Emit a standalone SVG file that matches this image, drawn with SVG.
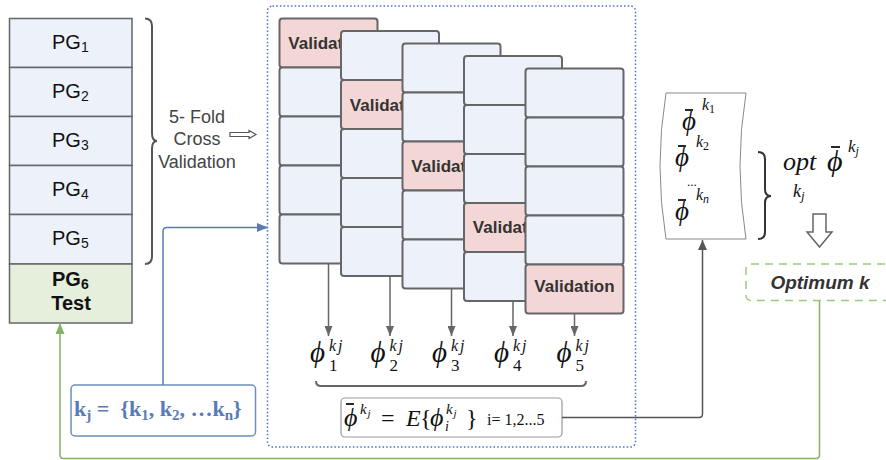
<svg xmlns="http://www.w3.org/2000/svg" width="886" height="460" viewBox="0 0 886 460">
  <style>
    .pg { fill: #ecf1fa; stroke: #666; stroke-width: 1.5; }
    .pgt { fill: #e5efdc; stroke: #666; stroke-width: 1.5; }
    .sans { font-family: "Liberation Sans", Arial, sans-serif; }
    .serif { font-family: "Liberation Serif", "Times New Roman", serif; }
    .lbl { font-size: 20px; fill: #111; }
    .cell { fill: #ecf1fa; stroke: #666; stroke-width: 2; }
    .val { fill: #f3d7d6; stroke: #666; stroke-width: 2; }
    .valt { font-family: "Liberation Sans", Arial, sans-serif; font-size: 17px; font-weight: bold; fill: #333; text-anchor: middle; }
    .gray { fill: none; stroke: #666; stroke-width: 1.5; }
    .math { font-family: "Liberation Serif", "DejaVu Serif", "Times New Roman", serif; fill: #111; }
    .bar { stroke: #111; stroke-width: 1.8; }
  </style>
  <defs>
    <marker id="arrGray" markerWidth="10" markerHeight="8" refX="10" refY="4" orient="auto" markerUnits="userSpaceOnUse">
      <path d="M0,0 L10,4 L0,8 Z" fill="#666"/>
    </marker>
    <marker id="arrBlue" markerWidth="11" markerHeight="9" refX="11" refY="4.5" orient="auto" markerUnits="userSpaceOnUse">
      <path d="M0,0 L11,4.5 L0,9 Z" fill="#5a7ab8"/>
    </marker>
    <marker id="arrGreen" markerWidth="11" markerHeight="9" refX="11" refY="4.5" orient="auto" markerUnits="userSpaceOnUse">
      <path d="M0,0 L11,4.5 L0,9 Z" fill="#82b366"/>
    </marker>
    <marker id="arrDark" markerWidth="10" markerHeight="9" refX="10" refY="4.5" orient="auto" markerUnits="userSpaceOnUse">
      <path d="M0,0 L10,4.5 L0,9 Z" fill="#555"/>
    </marker>
  </defs>

  <!-- partition groups PG1..PG6 -->
  <g id="pg-stack">
    <rect class="pg" x="9.5" y="18.5" width="122.5" height="49"/>
    <rect class="pg" x="9.5" y="67.5" width="122.5" height="49"/>
    <rect class="pg" x="9.5" y="116.5" width="122.5" height="49"/>
    <rect class="pg" x="9.5" y="165.5" width="122.5" height="49"/>
    <rect class="pg" x="9.5" y="214.5" width="122.5" height="49.5"/>
    <rect class="pgt" x="9.5" y="264" width="122.5" height="59"/>
    <text class="sans lbl" x="52" y="48.5">PG<tspan font-size="14" dy="3">1</tspan></text>
    <text class="sans lbl" x="52" y="97.5">PG<tspan font-size="14" dy="3">2</tspan></text>
    <text class="sans lbl" x="52" y="146.5">PG<tspan font-size="14" dy="3">3</tspan></text>
    <text class="sans lbl" x="52" y="195.5">PG<tspan font-size="14" dy="3">4</tspan></text>
    <text class="sans lbl" x="52" y="244.5">PG<tspan font-size="14" dy="3">5</tspan></text>
    <text class="sans lbl" x="52" y="285.5" font-weight="bold">PG<tspan font-size="14" dy="3">6</tspan></text>
    <text class="sans lbl" x="71" y="310" font-weight="bold" text-anchor="middle">Test</text>
  </g>

  <!-- brace and caption -->
  <g id="fold-label">
    <path d="M145,18.5 Q152,18.5 152,26 V133 Q152,141 157,141 Q152,141 152,149 V256.5 Q152,264 145,264" fill="none" stroke="#555" stroke-width="2"/>
    <g class="sans" font-size="18" fill="#444" text-anchor="middle">
      <text x="197" y="123">5- Fold</text>
      <text x="197" y="145">Cross</text>
      <text x="197" y="168">Validation</text>
    </g>
    <path d="M230,132.5 H249 V130.5 L256,134.5 L249,138.5 V136.5 H230 Z" fill="#fff" stroke="#555" stroke-width="1.2"/>
  </g>

  <!-- dotted container -->
  <rect id="folds-frame" x="267.5" y="6" width="368" height="441" rx="5" fill="none" stroke="#4d70c4" stroke-width="1.5" stroke-dasharray="1.5 2.2"/>

  <!-- fold 1 -->
  <g id="fold1">
    <rect class="val" x="279.5" y="18.5" width="98" height="49" rx="3"/>
    <rect class="cell" x="279.5" y="67.5" width="98" height="49" rx="3"/>
    <rect class="cell" x="279.5" y="116.5" width="98" height="49" rx="3"/>
    <rect class="cell" x="279.5" y="165.5" width="98" height="49" rx="3"/>
    <rect class="cell" x="279.5" y="214.5" width="98" height="49" rx="3"/>
    <text class="valt" x="328.5" y="49">Validation</text>
  </g>
  <!-- fold 2 -->
  <g id="fold2">
    <rect class="cell" x="341" y="31" width="98" height="49" rx="3"/>
    <rect class="val" x="341" y="80" width="98" height="49" rx="3"/>
    <rect class="cell" x="341" y="129" width="98" height="49" rx="3"/>
    <rect class="cell" x="341" y="178" width="98" height="49" rx="3"/>
    <rect class="cell" x="341" y="227" width="98" height="49" rx="3"/>
    <text class="valt" x="390" y="110.5">Validation</text>
  </g>
  <!-- fold 3 -->
  <g id="fold3">
    <rect class="cell" x="402.5" y="43.5" width="98" height="49" rx="3"/>
    <rect class="cell" x="402.5" y="92.5" width="98" height="49" rx="3"/>
    <rect class="val" x="402.5" y="141.5" width="98" height="49" rx="3"/>
    <rect class="cell" x="402.5" y="190.5" width="98" height="49" rx="3"/>
    <rect class="cell" x="402.5" y="239.5" width="98" height="49" rx="3"/>
    <text class="valt" x="451.5" y="171.5">Validation</text>
  </g>
  <!-- fold 4 -->
  <g id="fold4">
    <rect class="cell" x="464" y="56" width="98" height="49" rx="3"/>
    <rect class="cell" x="464" y="105" width="98" height="49" rx="3"/>
    <rect class="cell" x="464" y="154" width="98" height="49" rx="3"/>
    <rect class="val" x="464" y="203" width="98" height="49" rx="3"/>
    <rect class="cell" x="464" y="252" width="98" height="49" rx="3"/>
    <text class="valt" x="513" y="233">Validation</text>
  </g>
  <!-- fold 5 -->
  <g id="fold5">
    <rect class="cell" x="525.5" y="68.5" width="98" height="49" rx="3"/>
    <rect class="cell" x="525.5" y="117.5" width="98" height="49" rx="3"/>
    <rect class="cell" x="525.5" y="166.5" width="98" height="49" rx="3"/>
    <rect class="cell" x="525.5" y="215.5" width="98" height="49" rx="3"/>
    <rect class="val" x="525.5" y="264.5" width="98" height="49" rx="3"/>
    <text class="valt" x="574.5" y="292">Validation</text>
  </g>

  <!-- per-fold scores -->
  <g id="fold-scores" class="math">
    <text x="310" y="362" font-size="29" font-style="italic">ϕ<tspan x="329" y="351" font-size="16" letter-spacing="2">kj</tspan><tspan x="329" y="371" font-size="17" font-style="normal">1</tspan></text>
    <text x="370.5" y="362" font-size="29" font-style="italic">ϕ<tspan x="389.5" y="351" font-size="16" letter-spacing="2">kj</tspan><tspan x="389.5" y="371" font-size="17" font-style="normal">2</tspan></text>
    <text x="432" y="362" font-size="29" font-style="italic">ϕ<tspan x="451" y="351" font-size="16" letter-spacing="2">kj</tspan><tspan x="451" y="371" font-size="17" font-style="normal">3</tspan></text>
    <text x="494" y="362" font-size="29" font-style="italic">ϕ<tspan x="513" y="351" font-size="16" letter-spacing="2">kj</tspan><tspan x="513" y="371" font-size="17" font-style="normal">4</tspan></text>
    <text x="556.5" y="362" font-size="29" font-style="italic">ϕ<tspan x="575.5" y="351" font-size="16" letter-spacing="2">kj</tspan><tspan x="575.5" y="371" font-size="17" font-style="normal">5</tspan></text>
  </g>

  <!-- under-brace -->
  <path id="score-brace" d="M316,381 Q316,386 321,386 H581 Q586,386 586,381" fill="none" stroke="#666" stroke-width="2"/>

  <!-- average formula -->
  <g id="mean-box">
    <rect x="341" y="398" width="221" height="39" rx="4" fill="#fff" stroke="#999" stroke-width="1.2"/>
    <line class="bar" x1="346" y1="404" x2="354" y2="404"/>
    <text class="math" y="426" font-size="26">
      <tspan x="344" font-style="italic">ϕ</tspan>
      <tspan x="360" y="414" font-size="15" font-style="italic">k</tspan><tspan x="367.5" y="417" font-size="11" font-style="italic">j</tspan>
      <tspan x="381" y="426" font-size="24">=</tspan>
      <tspan x="406" y="426" font-size="24" font-style="italic">E</tspan><tspan x="420" y="426" font-size="24">{</tspan><tspan x="430" y="426" font-style="italic">ϕ</tspan>
      <tspan x="446" y="414" font-size="15" font-style="italic">k</tspan><tspan x="453.5" y="417" font-size="11" font-style="italic">j</tspan>
      <tspan x="445" y="431" font-size="14" font-style="italic">i</tspan>
      <tspan x="466" y="426" font-size="24">}</tspan>
      <tspan x="487" y="425" font-size="16">i= 1,2...5</tspan>
    </text>
  </g>

  <!-- collected averages -->
  <g id="averages">
    <path d="M666,93 H746 Q734,166 746,239 H666 Q654,166 666,93 Z" fill="#fff" stroke="#888" stroke-width="1"/>
    <line class="bar" x1="685" y1="110" x2="693" y2="110"/>
    <line class="bar" x1="678" y1="146" x2="686" y2="146"/>
    <line class="bar" x1="678" y1="200" x2="686" y2="200"/>
    <g class="math" font-style="italic">
      <text x="682" y="130" font-size="27">ϕ</text>
      <text x="702" y="110" font-size="16">k<tspan font-size="12" dy="3" font-style="normal">1</tspan></text>
      <text x="675" y="166" font-size="27">ϕ</text>
      <text x="696" y="147" font-size="16">k<tspan font-size="12" dy="3" font-style="normal">2</tspan></text>
      <text x="687" y="186" font-size="13" font-style="normal">...</text>
      <text x="675" y="220" font-size="27">ϕ</text>
      <text x="696" y="200" font-size="16">k<tspan font-size="12" dy="3">n</tspan></text>
    </g>
  </g>

  <!-- optimisation -->
  <g id="optimum-expr">
    <path d="M758,152 Q765,152 765,159 V189 Q765,196 771,196 Q765,196 765,203 V232 Q765,239 758,239" fill="none" stroke="#333" stroke-width="2"/>
    <line class="bar" x1="831" y1="147" x2="840" y2="147"/>
    <g class="math" font-style="italic">
      <text x="783" y="170" font-size="26">opt</text>
      <text x="827" y="171" font-size="30">ϕ</text>
      <text x="848" y="152" font-size="17">k<tspan font-size="12" dy="3">j</tspan></text>
      <text x="793" y="197" font-size="18">k<tspan font-size="13" dy="3">j</tspan></text>
    </g>
    <path d="M813,214 H826 V232 H832 L819.5,247 L807,232 H813 Z" fill="#fff" stroke="#666" stroke-width="1.5"/>
  </g>

  <!-- result -->
  <g id="optimum-k">
    <rect x="746" y="264" width="150" height="36.5" rx="5" fill="#fff" stroke="#97cc7e" stroke-width="1.5" stroke-dasharray="8 6"/>
    <text x="820" y="288.5" class="sans" font-size="19" font-weight="bold" font-style="italic" fill="#333" text-anchor="middle">Optimum k</text>
  </g>

  <!-- candidate k values -->
  <g id="k-set">
    <rect x="71" y="385" width="184.5" height="51" rx="4" fill="#fff" stroke="#6c8ebf" stroke-width="1.5"/>
    <text class="serif" x="74" y="416" font-size="22" font-weight="bold" fill="#5a7ab8" style="white-space:pre">k<tspan font-size="15" dy="4">j</tspan><tspan dy="-4"> =  {k</tspan><tspan font-size="15" dy="4">1</tspan><tspan dy="-4">, k</tspan><tspan font-size="15" dy="4">2</tspan><tspan dy="-4">, …k</tspan><tspan font-size="15" dy="4">n</tspan><tspan dy="-4">}</tspan></text>
  </g>

  <!-- connectors -->
  <g id="connectors" fill="none">
    <path class="gray" d="M328.5,264 V336" marker-end="url(#arrGray)"/>
    <path class="gray" d="M390,276.5 V336" marker-end="url(#arrGray)"/>
    <path class="gray" d="M451.5,289 V336" marker-end="url(#arrGray)"/>
    <path class="gray" d="M513,301.5 V336" marker-end="url(#arrGray)"/>
    <path class="gray" d="M574.5,314 V336" marker-end="url(#arrGray)"/>
    <path d="M163,385 V231 Q163,227.5 167,227.5 H268" stroke="#5a7ab8" stroke-width="1.5" marker-end="url(#arrBlue)"/>
    <path d="M562,417.5 H699 Q702.5,417.5 702.5,414 V240" stroke="#555" stroke-width="1.5" marker-end="url(#arrDark)"/>
    <path d="M819.5,300.5 V455 Q819.5,458.5 816,458.5 H63.5 Q60,458.5 60,455 V323" stroke="#82b366" stroke-width="1.5" marker-end="url(#arrGreen)"/>
  </g>
</svg>
